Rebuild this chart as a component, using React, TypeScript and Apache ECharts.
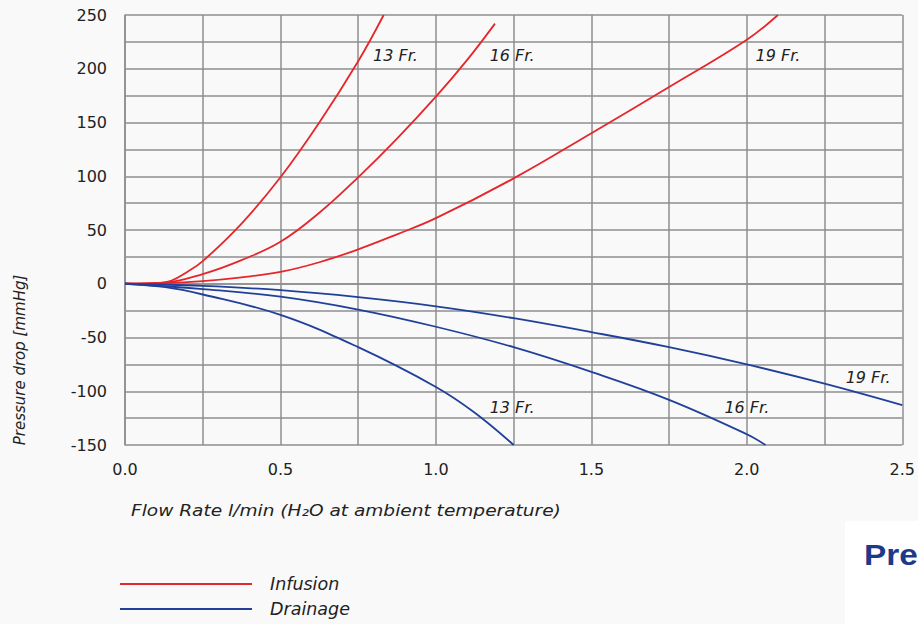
import React, { useEffect, useRef } from "react";
import * as echarts from "echarts";

const xTicks = [0, 0.5, 1.0, 1.5, 2.0, 2.5];
const yTicks = [-150, -100, -50, 0, 50, 100, 150, 200, 250];

const infusion13: number[][] = [[0, 0], [0.1, 0.5], [0.15, 3], [0.2, 11], [0.25, 21], [0.375, 56], [0.5, 99], [0.625, 150], [0.75, 207], [0.832, 250]];
const infusion16: number[][] = [[0, 0], [0.125, 1], [0.25, 9], [0.375, 22], [0.5, 39], [0.625, 66], [0.75, 99], [0.875, 135], [1.0, 174], [1.1, 208], [1.19, 242]];
const infusion19: number[][] = [[0, 0], [0.125, 0.5], [0.25, 2.5], [0.375, 6], [0.5, 11], [0.625, 20], [0.75, 32], [0.875, 46], [1.0, 61], [1.25, 98], [1.5, 140], [1.75, 183], [2.0, 227], [2.1, 250]];

const drainage13: number[][] = [[0, 0], [0.125, -3], [0.25, -10], [0.5, -29], [0.75, -59], [1.0, -96], [1.125, -120], [1.25, -150]];
const drainage16: number[][] = [[0, 0], [0.25, -5], [0.5, -12], [0.75, -24], [1.0, -40], [1.25, -59], [1.5, -82], [1.75, -108], [2.0, -140], [2.06, -150]];
const drainage19: number[][] = [[0, 0], [0.25, -2], [0.5, -6], [0.75, -12.5], [1.0, -21], [1.25, -32], [1.5, -45], [1.75, -59], [2.0, -75], [2.25, -93], [2.5, -113]];

const infusionLabels = ["13 Fr.", "16 Fr.", "19 Fr."];
const infusionLabelAt: number[][] = [[0.87, 212], [1.245, 212], [2.1, 212]];
const drainageLabels = ["13 Fr.", "16 Fr.", "19 Fr."];
const drainageLabelAt: number[][] = [[1.245, -115], [2.0, -115], [2.39, -87]];

const legendNames = ["Infusion", "Drainage"];

const RED = "#e5262b";
const BLUE = "#20409a";
const GRID = "#8e8e8e";
const TXT = "#222";
const FONT = "DejaVu Sans";

function mkSeries(name: string, color: string, data: number[][], label: string, at: number[]) {
  return {
    name,
    type: "line",
    data,
    smooth: 0.4,
    showSymbol: false,
    symbol: "none",
    lineStyle: { color, width: 1.8 },
    itemStyle: { color },
    markPoint: {
      symbol: "circle",
      symbolSize: 1,
      itemStyle: { color: "rgba(0,0,0,0)" },
      label: {
        show: true,
        position: "inside",
        formatter: label,
        color: TXT,
        fontStyle: "italic",
        fontFamily: FONT,
        fontSize: 16,
      },
      data: [{ coord: at, name: label }],
    },
  };
}

export default function App() {
  const ref = useRef<HTMLDivElement>(null);
  useEffect(() => {
    if (!ref.current) return;
    const chart = echarts.init(ref.current, undefined, { renderer: "svg" });
    const infData = [infusion13, infusion16, infusion19];
    const drnData = [drainage13, drainage16, drainage19];
    const series: any[] = [];
    infData.forEach((d, i) => series.push(mkSeries(legendNames[0], RED, d, infusionLabels[i], infusionLabelAt[i])));
    drnData.forEach((d, i) => series.push(mkSeries(legendNames[1], BLUE, d, drainageLabels[i], drainageLabelAt[i])));
    chart.setOption({
      animation: false,
      backgroundColor: "#f9f9f9",
      grid: { left: 125, right: 12, top: 15, bottom: 179, containLabel: false },
      xAxis: {
        type: "value",
        min: 0,
        max: 2.5,
        interval: 0.25,
        axisLine: { show: true, lineStyle: { color: GRID, width: 1.5 } },
        axisTick: { show: false },
        splitLine: { show: true, lineStyle: { color: GRID, width: 1.5 } },
        axisLabel: {
          margin: 16,
          color: TXT,
          fontFamily: FONT,
          fontSize: 16,
          formatter: (v: number) => (xTicks.some((t) => Math.abs(t - v) < 1e-6) ? v.toFixed(1) : ""),
        },
      },
      yAxis: {
        type: "value",
        min: -150,
        max: 250,
        interval: 25,
        axisLine: { show: true, lineStyle: { color: GRID, width: 1.5 } },
        axisTick: { show: false },
        splitLine: { show: true, lineStyle: { color: GRID, width: 1.5 } },
        axisLabel: {
          margin: 18,
          color: TXT,
          fontFamily: FONT,
          fontSize: 16,
          formatter: (v: number) => (yTicks.includes(Math.round(v)) ? String(Math.round(v)) : ""),
        },
      },
      legend: {
        data: legendNames,
        orient: "vertical",
        left: 120,
        top: 575,
        padding: 0,
        itemWidth: 132,
        itemHeight: 2,
        itemGap: 7,
        icon: "rect",
        selectedMode: false,
        textStyle: { color: TXT, fontStyle: "italic", fontFamily: FONT, fontSize: 17.5, padding: [0, 0, 0, 13] },
      },
      graphic: [
        {
          type: "text",
          x: 20,
          y: 360,
          rotation: Math.PI / 2,
          style: {
            text: "Pressure drop [mmHg]",
            fill: TXT,
            font: `italic 15px '${FONT}'`,
            textAlign: "center",
            textVerticalAlign: "middle",
          },
        },
        {
          type: "text",
          x: 131,
          y: 510,
          scaleX: 1.16,
          style: {
            text: "Flow Rate l/min (H\u2082O at ambient temperature)",
            fill: TXT,
            font: `italic 16px '${FONT}'`,
            textAlign: "left",
            textVerticalAlign: "middle",
          },
        },
        {
          type: "rect",
          shape: { x: 845, y: 521, width: 80, height: 110 },
          style: { fill: "#ffffff" },
        },
        {
          type: "text",
          x: 864,
          y: 555,
          scaleX: 1.15,
          style: {
            text: "Pre",
            fill: "#1d3a8a",
            font: `bold 29px 'Liberation Sans'`,
            textAlign: "left",
            textVerticalAlign: "middle",
          },
        },
      ],
      series,
    });
    return () => chart.dispose();
  }, []);
  return <div ref={ref} style={{ position: "fixed", left: 0, top: 0, width: 918, height: 624 }} />;
}
